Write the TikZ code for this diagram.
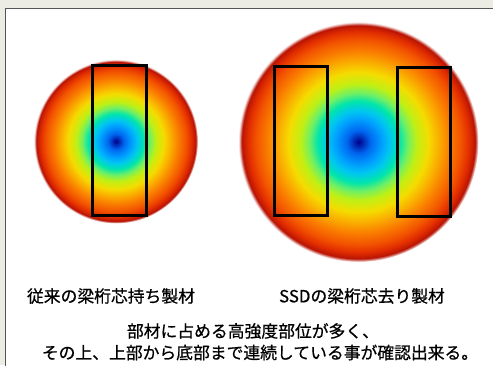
\documentclass[tikz,border=0pt]{standalone}
\usepackage{fontspec}
\setmainfont{Noto Sans CJK JP}
\newfontfamily\capfont{Noto Sans CJK JP}[FakeBold=0.7]

\definecolor{panelbg}{RGB}{236,235,228}
\definecolor{panelline}{RGB}{85,85,85}

% strength map of a log cross section: dark blue core, red rim
\pgfdeclareradialshading{logmap}{\pgfpoint{0bp}{0bp}}{%
  rgb(0bp)=(0,0,0.55);
  rgb(2.43bp)=(0,0.4,0.94);
  rgb(4.85bp)=(0,0.63,1);
  rgb(6.55bp)=(0,0.78,0.94);
  rgb(8.5bp)=(0,0.9,0.67);
  rgb(10.2bp)=(0.43,0.94,0.4);
  rgb(12.1bp)=(0.75,0.94,0.08);
  rgb(14.6bp)=(0.96,0.86,0);
  rgb(16.5bp)=(0.98,0.7,0);
  rgb(18.9bp)=(0.98,0.5,0);
  rgb(21.4bp)=(0.95,0.32,0);
  rgb(23.1bp)=(0.88,0.17,0);
  rgb(24.3bp)=(0.72,0.08,0.02);
  rgb(25bp)=(1,1,1);
  rgb(50bp)=(1,1,1)}

\begin{document}
\begin{tikzpicture}
  [x=1pt,y=-1pt,
   cut/.style={draw=black,line width=3pt},
   caption/.style={inner sep=0pt,font=\capfont\fontsize{16.8}{20}\selectfont}]
  \useasboundingbox (0,0) rectangle (493,365);
  \fill[panelbg] (0,0) rectangle (493,365);
  \draw[panelline,fill=white,line width=1pt] (5.5,8.5) rectangle (500,380);

  % the two logs
  \shade[shading=logmap] (116,141.5) circle[radius=82pt];
  \shade[shading=logmap] (358.5,142) circle[radius=120pt];

  % sawn pieces
  \draw[cut] (92,65) rectangle (146,215);
  \draw[cut] (274,66) rectangle (327,215);
  \draw[cut] (397,67) rectangle (450,216);

  \node[caption] (oldcut) at (111,296) {従来の梁桁芯持ち製材};
  \node[caption] (ssdcut) at (362,296) {SSDの梁桁芯去り製材};
  \node[caption] (noteA) at (253,331) {部材に占める高強度部位が多く、};
  \node[caption] (noteB) at (260,352.5) {その上、上部から底部まで連続している事が確認出来る。};
\end{tikzpicture}
\end{document}
